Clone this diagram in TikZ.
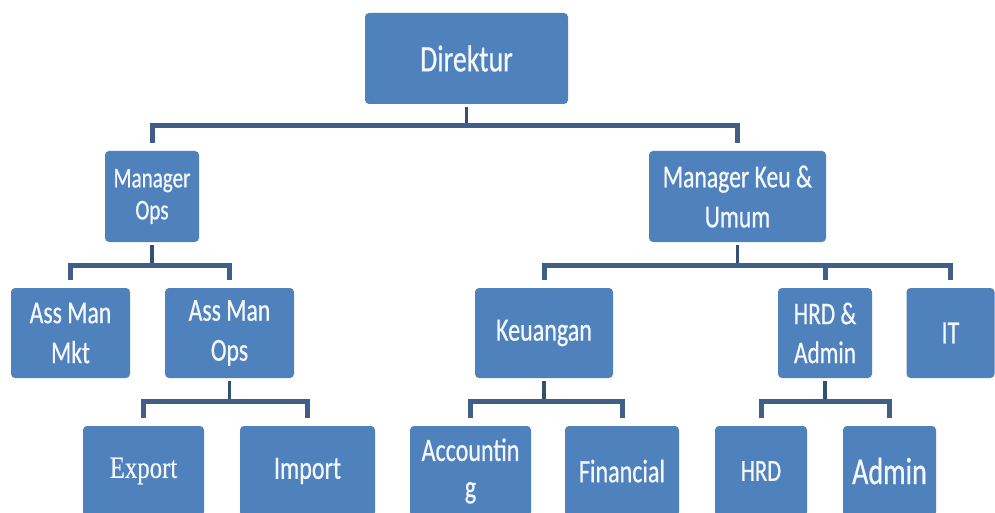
\documentclass[tikz,border=0pt]{standalone}
\usepackage{fontspec}
\setmainfont{Carlito}
\newfontfamily\cf[FakeStretch=0.74,FakeBold=0.6]{Carlito}
\newfontfamily\cserif[FakeStretch=0.8,FakeBold=0.5]{Liberation Serif}
\definecolor{boxblue}{HTML}{4F81BD}
\definecolor{linkblue}{HTML}{3F5F88}
\definecolor{stemblue}{HTML}{34506F}
\definecolor{boxtext}{HTML}{F4F7FC}
\begin{document}
\begin{tikzpicture}[x=1pt,y=-1pt,
  orgbox/.style={fill=boxblue, rounded corners=4pt, inner sep=0pt, text=boxtext, align=center},
  sz/.style 2 args={font=\cf\fontsize{#1}{#2}\selectfont},
  bar/.style={draw=linkblue, line width=5pt, line join=miter},
  stem/.style={draw=stemblue, line width=3.5pt}]
\useasboundingbox (0,0) rectangle (995,513);
\fill[white] (0,0) rectangle (995,513);

% level 0
\node[orgbox, minimum width=203pt, minimum height=91pt, sz={37.5}{44}] (dir) at (466.5,58.5) {Direktur};
% level 1
\node[orgbox, minimum width=94pt, minimum height=91pt, sz={28.5}{32}] (mops) at (152,196.5) {Manager\\Ops};
\node[orgbox, minimum width=177pt, minimum height=91pt, sz={32}{40}] (mkeu) at (737.5,196.5) {Manager Keu \&\\Umum};
% level 2
\node[orgbox, minimum width=119pt, minimum height=90pt, sz={32}{40}] (amm) at (70.5,333) {Ass Man\\Mkt};
\node[orgbox, minimum width=129pt, minimum height=90pt, sz={32}{40}] (amo) at (229.5,333) {Ass Man\\Ops};
\node[orgbox, minimum width=138pt, minimum height=90pt, sz={32.5}{39}] (keu) at (544,333) {Keuangan};
\node[orgbox, minimum width=94pt, minimum height=90pt, sz={31.5}{39}] (hrda) at (825,333) {HRD \&\\Admin};
\node[orgbox, minimum width=88pt, minimum height=90pt, sz={32.5}{39}] (it) at (950.5,333) {IT};
% level 3
\node[orgbox, minimum width=121pt, minimum height=90pt, font=\cserif\fontsize{31}{37}\selectfont] (exp) at (143.5,471) {Export};
\node[orgbox, minimum width=135pt, minimum height=90pt, sz={32.5}{39}] (imp) at (307.5,471) {Import};
\node[orgbox, minimum width=121pt, minimum height=90pt, sz={32.5}{37}] (acc) at (470.5,471) {Accountin\\g};
\node[orgbox, minimum width=114pt, minimum height=90pt, sz={32.5}{39}] (fin) at (622,471) {Financial};
\node[orgbox, minimum width=92pt, minimum height=90pt, sz={30.5}{37}] (hrd) at (761,471) {HRD};
\node[orgbox, minimum width=93pt, minimum height=90pt, sz={38}{44}] (adm) at (889.5,471) {Admin};

% bar levels
\coordinate (b0) at (466.5,126);
\coordinate (b1) at (152,265);
\coordinate (b2) at (737.5,265);
\coordinate (b3) at (229.5,401);
\coordinate (b4) at (544,401);
\coordinate (b5) at (825,401);

% stems
\draw[stem] ([yshift=-3pt]dir.south) -- (dir.south |- b0);
\draw[stem] ([yshift=-3pt]mops.south) -- (mops.south |- b1);
\draw[stem] ([yshift=-3pt]mkeu.south) -- (mkeu.south |- b2);
\draw[stem] ([yshift=-3pt]amo.south) -- (amo.south |- b3);
\draw[stem] ([yshift=-3pt]keu.south) -- (keu.south |- b4);
\draw[stem] ([yshift=-3pt]hrda.south) -- (hrda.south |- b5);

% bars with legs
\draw[bar] ([yshift=8pt]mops.north) |- (b0) -| ([yshift=8pt]mkeu.north);
\draw[bar] ([yshift=8pt]amm.north) |- (b1) -| ([yshift=8pt]amo.north);
\draw[bar] ([yshift=8pt]keu.north) |- (b2) -| ([yshift=8pt]it.north);
\draw[bar] (b2) -| ([yshift=8pt]hrda.north);
\draw[bar] ([yshift=8pt]exp.north) |- (b3) -| ([yshift=8pt]imp.north);
\draw[bar] ([yshift=8pt]acc.north) |- (b4) -| ([yshift=8pt]fin.north);
\draw[bar] ([yshift=8pt]hrd.north) |- (b5) -| ([yshift=8pt]adm.north);
\end{tikzpicture}
\end{document}
